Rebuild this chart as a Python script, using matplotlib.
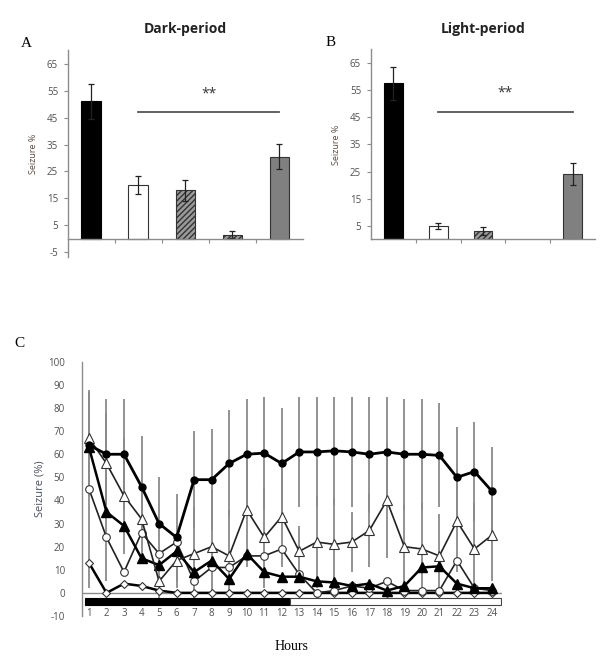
import matplotlib
matplotlib.use('Agg')
import matplotlib.pyplot as plt
from matplotlib.patches import Rectangle

# Panel A / B: seizure % by group
groups = [1, 2, 3, 4, 5]
dark_mean = [51, 20, 18, 1.5, 30.5]
dark_err = [6.5, 3.5, 3.8, 1.3, 4.7]
light_mean = [57.5, 5, 3, 0, 24]
light_err = [6, 1.2, 1.5, 0, 4]

# Panel C: hourly seizure % (five series)
hours = list(range(1, 25))
filled_circle = [64, 60, 60, 46, 30, 24, 49, 49, 56, 60, 60.5, 56,
                 61, 61, 61.5, 61, 60, 61, 60, 60, 59.5, 50, 52.5, 44]
filled_circle_sd = [22, 24, 24, 22, 20, 19, 21, 22, 23, 24, 24.5, 24,
                    24, 24, 23.5, 24, 25, 24, 24, 24, 22.5, 22, 21.5, 19]
open_triangle = [67, 56, 42, 32, 5, 14, 17, 20, 16, 36, 24, 33,
                 18, 22, 21, 22, 27, 40, 20, 19, 16, 31, 19, 25]
open_triangle_sd = [20, 22, 25, 17, 8, 12, 20, 25, 20, 25, 22, 22,
                    11, 20, 20, 13, 16, 25, 18, 20, 18, 22, 20, 20]
filled_triangle = [63, 35, 29, 15, 12, 18, 9, 14, 6, 17, 9, 7,
                   7, 5, 4.5, 3, 4, 1, 3, 11, 11.5, 4, 2, 2]
open_circle = [45, 24, 9, 26, 17, 22, 5, 11, 11, 16, 16, 19,
               8, 0, 1, 3, 2, 5, 1, 1, 1, 14, 2, 1]
open_circle_sd = [43, 19, 0, 0, 0, 0, 0, 0, 0, 0, 0, 0,
                  0, 0, 0, 0, 0, 0, 0, 0, 0, 0, 0, 0]
open_diamond = [13, 0, 4, 3, 1, 0, 0, 0, 0, 0, 0, 0,
                0, 0, 0, 0, 0, 0, 0, 0, 0, 0, 0, 0]

AXIS_GRAY = '#8c8c8c'
TICK_GRAY = '#505050'
bar_styles = [
    dict(color='black', edgecolor='black'),
    dict(color='white', edgecolor='#333333'),
    dict(color='#9a9a9a', edgecolor='#333333', hatch='//////'),
    dict(color='#9a9a9a', edgecolor='#333333', hatch='//////'),
    dict(color='#808080', edgecolor='#333333'),
]


def draw_bars(ax, means, errs, title, letter, ymin, yticks):
    for g, m, e, st in zip(groups, means, errs, bar_styles):
        if m <= 0:
            continue
        ax.bar(g, m, width=0.42, linewidth=0.8, **st)
        ax.errorbar(g, m, yerr=e, fmt='none', ecolor='#222222',
                    elinewidth=0.9, capsize=2, capthick=0.9)
    ax.set_xlim(0.5, 5.5)
    ax.set_ylim(ymin, 70)
    ax.spines['top'].set_visible(False)
    ax.spines['right'].set_visible(False)
    ax.spines['bottom'].set_position(('data', 0))
    for s in ('left', 'bottom'):
        ax.spines[s].set_color(AXIS_GRAY)
        ax.spines[s].set_linewidth(1.0)
    ax.set_xticks([1.5, 2.5, 3.5, 4.5])
    ax.set_xticklabels([])
    ax.tick_params(axis='x', length=3, color=AXIS_GRAY)
    ax.set_yticks(yticks)
    ax.tick_params(axis='y', length=3, color=AXIS_GRAY, labelsize=7,
                   labelcolor=TICK_GRAY, pad=4)
    ax.set_ylabel('Seizure %', fontsize=6.5, color='#5a4a44', labelpad=6)
    ax.set_title(title, fontsize=10, fontweight='bold', color='#222222', pad=12)
    # significance line over groups 2..5
    ax.plot([2, 5], [47, 47], color='#555555', linewidth=1.3)
    ax.text(3.5, 51, '**', ha='center', va='bottom', fontsize=10, color='#333333')
    ax.text(-0.2, 1.0, letter, transform=ax.transAxes, fontsize=11,
            family='Liberation Serif', ha='left', va='bottom')


def draw_hourly(ax):
    ax.errorbar(hours, filled_circle, yerr=filled_circle_sd, fmt='none',
                ecolor='#8a8a8a', elinewidth=1.3, capsize=0, zorder=1)
    ax.errorbar(hours, open_triangle, yerr=open_triangle_sd, fmt='none',
                ecolor='#8a8a8a', elinewidth=1.3, capsize=0, zorder=1)
    ax.errorbar(hours, open_circle, yerr=open_circle_sd, fmt='none',
                ecolor='#8a8a8a', elinewidth=1.3, capsize=0, zorder=1)

    ax.axhline(0, color=AXIS_GRAY, linewidth=1.0, zorder=1)

    ax.plot(hours, open_diamond, color='black', linewidth=1.8, marker='D',
            markersize=4.5, markerfacecolor='white', markeredgecolor='#333333',
            markeredgewidth=0.8, zorder=3)
    ax.plot(hours, open_circle, color='#222222', linewidth=1.2, marker='o',
            markersize=5.5, markerfacecolor='white', markeredgecolor='#333333',
            markeredgewidth=0.8, zorder=4)
    ax.plot(hours, filled_triangle, color='black', linewidth=1.8, marker='^',
            markersize=6.5, markerfacecolor='black', markeredgecolor='black', zorder=5)
    ax.plot(hours, open_triangle, color='#222222', linewidth=1.2, marker='^',
            markersize=7, markerfacecolor='white', markeredgecolor='#333333',
            markeredgewidth=0.8, zorder=6)
    ax.plot(hours, filled_circle, color='black', linewidth=2.0, marker='o',
            markersize=5, markerfacecolor='black', markeredgecolor='black', zorder=7)

    # dark / light bar along the bottom
    ax.add_patch(Rectangle((0.75, -5.3), 11.75, 3.0, facecolor='black',
                           edgecolor='black', linewidth=0.8, zorder=2))
    ax.add_patch(Rectangle((12.5, -5.3), 12.0, 3.0, facecolor='white',
                           edgecolor='#444444', linewidth=0.8, zorder=2))

    ax.set_xlim(0.58, 24.55)
    ax.set_ylim(-10, 100)
    for s in ('top', 'right', 'bottom'):
        ax.spines[s].set_visible(False)
    ax.spines['left'].set_color(AXIS_GRAY)
    ax.spines['left'].set_linewidth(1.0)
    ax.set_xticks(hours)
    ax.set_xticklabels([str(h) for h in hours])
    ax.tick_params(axis='x', length=0, labelsize=7, labelcolor=TICK_GRAY, pad=-6)
    ax.set_yticks(range(-10, 101, 10))
    ax.tick_params(axis='y', length=0, labelsize=7, labelcolor=TICK_GRAY, pad=12)
    ax.set_ylabel('Seizure (%)', fontsize=8, color='#4a5060', labelpad=2)
    ax.text(-0.16, 1.045, 'C', transform=ax.transAxes, fontsize=11,
            family='Liberation Serif', ha='left', va='bottom')
    ax.text(0.5, -0.095, 'Hours', transform=ax.transAxes, fontsize=10,
            family='Liberation Serif', ha='center', va='top')


def main():
    plt.rcParams['font.family'] = ['Open Sans', 'DejaVu Sans']
    plt.rcParams['axes.unicode_minus'] = False
    fig = plt.figure(figsize=(6, 6.67), dpi=100)

    ax_a = fig.add_axes([0.113, 0.615, 0.392, 0.31])
    draw_bars(ax_a, dark_mean, dark_err, 'Dark-period', 'A', -6.6, range(-5, 66, 10))

    ax_b = fig.add_axes([0.618, 0.641, 0.374, 0.285])
    draw_bars(ax_b, light_mean, light_err, 'Light-period', 'B', 0, range(5, 66, 10))

    ax_c = fig.add_axes([0.136, 0.0765, 0.700, 0.381])
    draw_hourly(ax_c)

    fig.savefig('out.png', dpi=100)


if __name__ == '__main__':
    main()
